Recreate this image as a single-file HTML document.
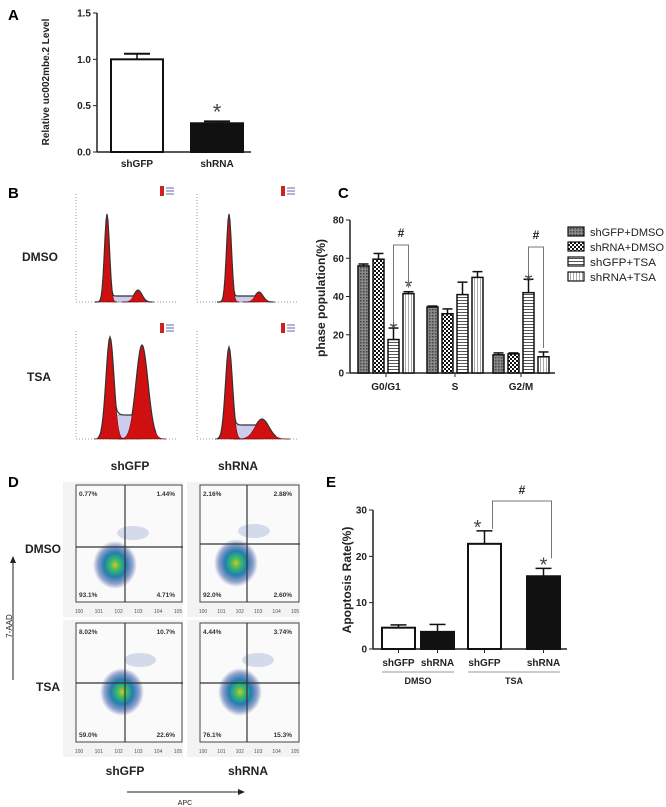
<!DOCTYPE html>
<html><head><meta charset="utf-8">
<style>
html,body{margin:0;padding:0;background:#fff;}
svg{display:block;font-family:"Liberation Sans",Arial,sans-serif;}
.lbl{font-weight:bold;font-size:15px;}
.t{font-size:10px;font-weight:bold;fill:#222;}
.s{font-size:12px;font-weight:bold;fill:#222;}
</style></head>
<body>
<svg id="fig" width="666" height="807" viewBox="0 0 666 807" xmlns="http://www.w3.org/2000/svg">
<defs>
<pattern id="pDots" width="3" height="3" patternUnits="userSpaceOnUse"><rect width="3" height="3" fill="#888"/><rect width="1.5" height="1.5" fill="#444"/></pattern>
<pattern id="pCheck" width="4" height="4" patternUnits="userSpaceOnUse"><rect width="4" height="4" fill="#fff"/><rect width="2" height="2" fill="#111"/><rect x="2" y="2" width="2" height="2" fill="#111"/></pattern>
<pattern id="pHor" width="3" height="3" patternUnits="userSpaceOnUse"><rect width="3" height="3" fill="#fff"/><rect width="3" height="1" fill="#555"/></pattern>
<pattern id="pVer" width="3" height="3" patternUnits="userSpaceOnUse"><rect width="3" height="3" fill="#fff"/><rect width="1" height="3" fill="#aaa"/></pattern>
<radialGradient id="blob"><stop offset="0" stop-color="#e0c020"/><stop offset="0.2" stop-color="#40c060"/><stop offset="0.5" stop-color="#2080b0"/><stop offset="0.8" stop-color="#3050a0" stop-opacity="0.5"/><stop offset="1" stop-color="#3050a0" stop-opacity="0"/></radialGradient>
<marker id="arr" markerWidth="8" markerHeight="8" refX="6" refY="3" orient="auto"><path d="M0,0 L7,3 L0,6 z" fill="#222"/></marker>
</defs>
<g id="A"><text class="lbl" x="8" y="20">A</text></g>
<g id="B"><text class="lbl" x="8" y="198">B</text></g>
<g id="C"><text class="lbl" x="338" y="198">C</text></g>
<g id="D"><text class="lbl" x="8" y="487">D</text></g>
<g id="E"><text class="lbl" x="326" y="487">E</text></g>
</svg>
<script>
// ---- Panel A data ----
const aCats = ["shGFP", "shRNA"];
const aVals = [1.0, 0.31];
const aErrs = [0.06, 0.02];
const aTicks = [0, 0.5, 1.0, 1.5];
// ---- Panel C data ----
const cCats = ["G0/G1", "S", "G2/M"];
const cSeries = ["shGFP+DMSO", "shRNA+DMSO", "shGFP+TSA", "shRNA+TSA"];
const cV1 = [56, 34.5, 9.5];
const cV2 = [59.5, 31, 10];
const cV3 = [17.5, 41, 42];
const cV4 = [41.5, 50, 8.5];
const cE1 = [1, 0.5, 1];
const cE2 = [3, 2.5, 0.5];
const cE3 = [6, 6.5, 7];
const cE4 = [1, 3, 2.5];
const cTicks = [0, 20, 40, 60, 80];
// ---- Panel E data ----
const eCats = ["shGFP", "shRNA", "shGFP", "shRNA"];
const eGroups = ["DMSO", "TSA"];
const eVals = [4.6, 3.7, 22.7, 15.7];
const eErrs = [0.6, 1.6, 2.8, 1.7];
const eTicks = [0, 10, 20, 30];
// ---- Panel D quadrant percentages ----
const dDmsoGFP = ["0.77%", "1.44%", "93.1%", "4.71%"];
const dDmsoRNA = ["2.16%", "2.88%", "92.0%", "2.60%"];
const dTsaGFP = ["8.02%", "10.7%", "59.0%", "22.6%"];
const dTsaRNA = ["4.44%", "3.74%", "76.1%", "15.3%"];

const NS = "http://www.w3.org/2000/svg";
function mk(parent, tag, attrs, txt){
  const e = document.createElementNS(NS, tag);
  for (const k in attrs) e.setAttribute(k, attrs[k]);
  if (txt !== undefined) e.textContent = txt;
  parent.appendChild(e);
  return e;
}
const A = document.getElementById('A'), B = document.getElementById('B'),
      C = document.getElementById('C'), D = document.getElementById('D'), E = document.getElementById('E');

// ===== Panel A =====
(function(){
  const x0 = 97, x1 = 251, yA = v => 152 - v * (139 / 1.5);
  let el = mk(A, 'line', {x1:x0, y1:13, x2:x0, y2:152, stroke:'#222','stroke-width':1.5});
   
  el = mk(A, 'line', {x1:x0, y1:152, x2:x1, y2:152, stroke:'#222','stroke-width':1.5});
   
  aTicks.forEach(t => {
    mk(A, 'line', {x1:x0-4, y1:yA(t), x2:x0, y2:yA(t), stroke:'#222'});
    el = mk(A, 'text', {x:x0-6, y:yA(t)+3.5, class:'t', 'text-anchor':'end'}, t.toFixed(1));
     
  });
  el = mk(A, 'text', {x:0, y:0, class:'t', 'text-anchor':'middle', transform:'translate(49,82) rotate(-90)'}, 'Relative uc002mbe.2 Level');
   
  const bx = [111, 191], bw = 52;
  aVals.forEach((v,i) => {
    const cx = bx[i] + bw/2;
    const eTop = yA(v + aErrs[i]);
    mk(A, 'line', {x1:cx, y1:yA(v), x2:cx, y2:eTop, stroke:'#111','stroke-width':1.5});
    mk(A, 'line', {x1:cx-13, y1:eTop, x2:cx+13, y2:eTop, stroke:'#111','stroke-width':2});
    el = mk(A, 'rect', {x:bx[i], y:yA(v), width:bw, height:152-yA(v), fill: i ? '#111' : '#fff', stroke:'#111','stroke-width':2});
     
    el = mk(A, 'text', {x:cx, y:167, class:'t', 'text-anchor':'middle'}, aCats[i]);
     
  });
  el = mk(A, 'text', {x:bx[1]+bw/2, y:yA(aVals[1]+aErrs[1])-2, 'font-size':22, fill:'#444', 'text-anchor':'middle'}, '*');
   
})();

// ===== Panel B histograms =====
const bPeaks = [
  // [g1 pos, g1 height, g1 width, g2 pos, g2 height, g2 width, plateau]
  [107, 88, 2.5, 138, 12, 4, 6],
  [229, 88, 2.5, 259, 10, 4, 6],
  [110, 102, 4, 142, 94, 6, 24],
  [229, 92, 3.5, 262, 20, 7, 14]
];
(function(){
  const panels = [[76,302,'shGFP-DMSO'],[197,302,'shRNA-DMSO'],[76,439,'shGFP-TSA'],[197,439,'shRNA-TSA']];
  panels.forEach((p, k) => {
    const [ax, by, nm] = p, pk = bPeaks[k];
    const g = mk(B, 'g', {});
     
    mk(g, 'line', {x1:ax, y1:by-108, x2:ax, y2:by, stroke:'#999', 'stroke-dasharray':'1 2'});
    mk(g, 'line', {x1:ax, y1:by, x2:ax+100, y2:by, stroke:'#999', 'stroke-dasharray':'1 2'});
    let pts = [];
    for (let x = pk[0]-12; x <= pk[3]+14; x++) {
      const g1 = pk[1]*Math.exp(-Math.pow((x-pk[0])/pk[2],2)/2);
      const g2 = pk[4]*Math.exp(-Math.pow((x-pk[3])/pk[5],2)/2);
      const s = (x > pk[0] && x < pk[3]) ? pk[6] : 0;
      pts.push([x, by - Math.max(g1+g2, s + g1*0.2)]);
    }
    mk(g, 'path', {d:'M'+pk[0]+','+by+' L'+pk[0]+','+(by-pk[6])+' L'+pk[3]+','+(by-pk[6])+' L'+pk[3]+','+by+'Z', fill:'#ccccee', stroke:'#666','stroke-width':0.5});
    [[0,1,2],[3,4,5]].forEach(idx => {
      let d = '';
      for (let x = pk[idx[0]]-4*pk[idx[2]]; x <= pk[idx[0]]+4*pk[idx[2]]; x+=0.5) {
        const y = by - pk[idx[1]]*Math.exp(-Math.pow((x-pk[idx[0]])/pk[idx[2]],2)/2);
        d += (d ? 'L' : 'M') + x + ',' + y;
      }
      mk(g, 'path', {d:d+'Z', fill:'#d01010', stroke:'#600','stroke-width':0.5});
    });
    mk(g, 'path', {d:'M'+pts.map(q=>q.join(',')).join(' L'), fill:'none', stroke:'#333','stroke-width':1.2});
    mk(g, 'rect', {x:ax+84, y:by-116, width:4, height:10, fill:'#c22'});
    for (let r=0;r<3;r++) mk(g,'line',{x1:ax+90,y1:by-114+r*3,x2:ax+98,y2:by-114+r*3,stroke:'#66a','stroke-width':1});
  });
  let el;
  [['DMSO',22,261],['TSA',27,381]].forEach(r => {
    el = mk(B, 'text', {x:r[1], y:r[2], class:'s'}, r[0]);
     
  });
  [['shGFP',130],['shRNA',238]].forEach(r => {
    el = mk(B, 'text', {x:r[1], y:470, class:'s', 'text-anchor':'middle'}, r[0]);
     
  });
})();

// ===== Panel C =====
(function(){
  const x0 = 350, x1 = 555, yC = v => 373 - v * (153/80);
  let el = mk(C, 'line', {x1:x0, y1:220, x2:x0, y2:373, stroke:'#222','stroke-width':1.5});
   
  el = mk(C, 'line', {x1:x0, y1:373, x2:x1, y2:373, stroke:'#222','stroke-width':1.5});
   
  cTicks.forEach(t => {
    mk(C, 'line', {x1:x0-4, y1:yC(t), x2:x0, y2:yC(t), stroke:'#222'});
    el = mk(C, 'text', {x:x0-6, y:yC(t)+3.5, class:'t', 'text-anchor':'end'}, t);
     
  });
  el = mk(C, 'text', {x:0, y:0, class:'s', 'text-anchor':'middle', transform:'translate(325,298) rotate(-90)'}, 'phase population(%)');
   
  const vals = [cV1,cV2,cV3,cV4], errs=[cE1,cE2,cE3,cE4], fills=['url(#pDots)','url(#pCheck)','url(#pHor)','url(#pVer)'];
  const bw = 11, step = 15, gStart = [358, 427, 493];
  const xC = (g,s) => gStart[g] + s*step;
  cCats.forEach((c,g) => {
    const tx = (xC(g,0) + xC(g,3) + bw)/2;
    mk(C, 'line', {x1:tx, y1:373, x2:tx, y2:377, stroke:'#222'});
    el = mk(C, 'text', {x:tx, y:390, class:'t', 'text-anchor':'middle'}, c);
     
    for (let s=0; s<4; s++) {
      const v = vals[s][g], cx = xC(g,s)+bw/2, et = yC(v+errs[s][g]);
      mk(C, 'line', {x1:cx, y1:yC(v), x2:cx, y2:et, stroke:'#111','stroke-width':1.5});
      mk(C, 'line', {x1:cx-5, y1:et, x2:cx+5, y2:et, stroke:'#111','stroke-width':1.5});
      el = mk(C, 'rect', {x:xC(g,s), y:yC(v), width:bw, height:373-yC(v), fill:fills[s], stroke:'#111','stroke-width':1.5});
      
      
    }
  });
  // stars
  [[0,2],[0,3],[2,2]].forEach(q => {
    const [g,s] = q;
    el = mk(C, 'text', {x:xC(g,s)+bw/2, y:yC(vals[s][g]+errs[s][g])+ (s===3?2:8), 'font-size':20, fill:'#444','text-anchor':'middle'}, '*');
     
  });
  // brackets
  [[0,2,3,245],[2,2,3,247]].forEach(b => {
    const [g,s1,s2,top] = b, xa = xC(g,s1)+bw/2, xb = xC(g,s2)+bw/2;
    el = mk(C, 'path', {d:'M'+xa+','+(yC(vals[s1][g]+errs[s1][g])-4)+' L'+xa+','+top+' L'+xb+','+top+' L'+xb+','+(yC(vals[s2][g]+errs[s2][g])-4), fill:'none', stroke:'#777'});
     
    el = mk(C, 'text', {x:(xa+xb)/2, y:top-8, class:'s', 'text-anchor':'middle'}, '#');
     
  });
  cSeries.forEach((nm,s) => {
    const y = 227 + s*15;
    const lg = mk(C, 'g', {});
     
    mk(lg, 'rect', {x:568, y:y, width:16, height:9, fill:fills[s], stroke:'#111','stroke-width':1.2});
    mk(lg, 'text', {x:590, y:y+9, 'font-size':11, fill:'#222', textLength: nm.length>9 ? 74 : (nm.length===9?66:68), lengthAdjust:'spacingAndGlyphs'}, nm);
  });
})();

// ===== Panel D =====
(function(){
  const boxes = [
    [63,482,183,617,125,547,dDmsoGFP,'dmso-shgfp'],
    [187,482,300,617,247,544,dDmsoRNA,'dmso-shrna'],
    [63,620,183,757,125,683,dTsaGFP,'tsa-shgfp'],
    [187,620,300,757,247,683,dTsaRNA,'tsa-shrna']
  ];
  let el;
  boxes.forEach((b, k) => {
    const [l,t,r,bt,vx,hy,pct,nm] = b;
    const g = mk(D, 'g', {});
     
    mk(g, 'rect', {x:l, y:t, width:r-l, height:bt-t, fill:'#f3f3f3'});
    const pl = l+13, pb = bt-15;
    mk(g, 'rect', {x:pl, y:t+3, width:r-pl-1, height:pb-t-3, fill:'#fafafa', stroke:'#444','stroke-width':1});
    const cx = (k===0)?115:(k===1)?236:(k===2)?122:240;
    const cy = (k===0)?565:(k===1)?563:(k===2)?692:692;
    mk(g, 'ellipse', {cx:cx, cy:cy, rx:22, ry:24, fill:'url(#blob)'});
    mk(g, 'ellipse', {cx:cx+18, cy:cy-32, rx:16, ry:7, fill:'#6080c0', opacity:0.25});
    mk(g, 'line', {x1:vx, y1:t+3, x2:vx, y2:pb, stroke:'#333','stroke-width':1.2});
    mk(g, 'line', {x1:pl, y1:hy, x2:r, y2:hy, stroke:'#333','stroke-width':1.2});
    const pos = [[pl+3,t+14,'start'],[r-8,t+14,'end'],[pl+3,pb-5,'start'],[r-8,pb-5,'end']];
    pos.forEach((p,i) => {
      const tt = mk(g, 'text', {x:p[0], y:p[1], 'font-size':6.5, 'font-weight':'bold', fill:'#333','text-anchor':p[2]}, pct[i]);
       
    });
    for (let i=0;i<6;i++) mk(g,'text',{x:pl+3+i*(r-pl-8)/5, y:bt-4,'font-size':5,fill:'#555','text-anchor':'middle'},'10'+i);
  });
  [['DMSO',25,553],['TSA',36,691]].forEach(r => {
    el = mk(D, 'text', {x:r[1], y:r[2], class:'s'}, r[0]);
     
  });
  [['shGFP',125],['shRNA',248]].forEach(r => {
    el = mk(D, 'text', {x:r[1], y:775, class:'s', 'text-anchor':'middle'}, r[0]);
     
  });
  el = mk(D, 'line', {x1:127, y1:792, x2:244, y2:792, stroke:'#222', 'marker-end':'url(#arr)'});
   
  el = mk(D, 'text', {x:185, y:805, 'font-size':7, fill:'#222','text-anchor':'middle'}, 'APC');
   
  el = mk(D, 'line', {x1:13, y1:680, x2:13, y2:557, stroke:'#222', 'marker-end':'url(#arr)'});
   
  el = mk(D, 'text', {x:0, y:0, 'font-size':8, fill:'#222','text-anchor':'middle', transform:'translate(12,626) rotate(-90)'}, '7-AAD');
   
})();

// ===== Panel E =====
(function(){
  const x0 = 373, x1 = 567, yE = v => 649 - v * (139/30);
  let el = mk(E, 'line', {x1:x0, y1:510, x2:x0, y2:649, stroke:'#222','stroke-width':1.5});
   
  el = mk(E, 'line', {x1:x0, y1:649, x2:x1, y2:649, stroke:'#222','stroke-width':1.5});
   
  eTicks.forEach(t => {
    mk(E, 'line', {x1:x0-4, y1:yE(t), x2:x0, y2:yE(t), stroke:'#222'});
    el = mk(E, 'text', {x:x0-6, y:yE(t)+3.5, class:'t', 'text-anchor':'end'}, t);
     
  });
  el = mk(E, 'text', {x:0, y:0, class:'s', 'text-anchor':'middle', transform:'translate(351,580) rotate(-90)'}, 'Apoptosis Rate(%)');
   
  const bx = [382, 421, 468, 527], bw = 33;
  eVals.forEach((v,i) => {
    const cx = bx[i]+bw/2, et = yE(v+eErrs[i]);
    mk(E, 'line', {x1:cx, y1:yE(v), x2:cx, y2:et, stroke:'#111','stroke-width':1.5});
    mk(E, 'line', {x1:cx-8, y1:et, x2:cx+8, y2:et, stroke:'#111','stroke-width':1.5});
    el = mk(E, 'rect', {x:bx[i], y:yE(v), width:bw, height:649-yE(v), fill:(i%2)?'#111':'#fff', stroke:'#111','stroke-width':2});
     
    mk(E, 'line', {x1:cx, y1:649, x2:cx, y2:653, stroke:'#222'});
    el = mk(E, 'text', {x:cx, y:666, class:'t', 'text-anchor':'middle'}, eCats[i]);
     
  });
  eGroups.forEach((gname,g) => {
    const xa = bx[g*2], xb = bx[g*2+1]+bw;
    mk(E, 'line', {x1:xa, y1:672, x2:xb, y2:672, stroke:'#999'});
    el = mk(E, 'text', {x:(xa+xb)/2, y:684, 'font-size':9, 'font-weight':'bold', fill:'#222','text-anchor':'middle'}, gname);
     
  });
  [2,3].forEach(i => {
    el = mk(E, 'text', {x:bx[i]+bw/2 - (i===2?7:0), y:yE(eVals[i]+eErrs[i])+3, 'font-size':20, fill:'#444','text-anchor':'middle'}, '*');
     
  });
  const xa = bx[2]+bw/2+8, xb = bx[3]+bw/2+8;
  el = mk(E, 'path', {d:'M'+xa+','+(yE(eVals[2]+eErrs[2])-2)+' L'+xa+',501 L'+xb+',501 L'+xb+','+(yE(eVals[3]+eErrs[3])-10), fill:'none', stroke:'#777'});
   
  el = mk(E, 'text', {x:(xa+xb)/2, y:494, class:'s', 'text-anchor':'middle'}, '#');
   
})();
</script>
</body></html>
